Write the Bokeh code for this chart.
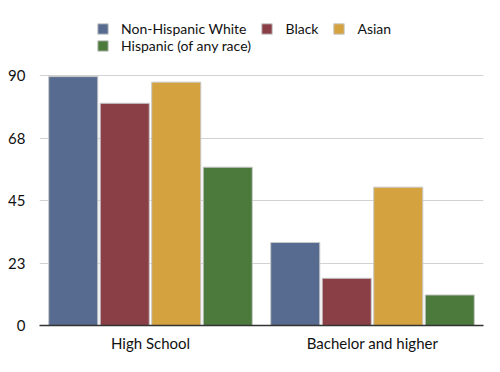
from bokeh.plotting import figure
from bokeh.models import (ColumnDataSource, FactorRange, FixedTicker, CustomJSTickFormatter,
                          Legend, LegendItem)
from bokeh.transform import dodge
from bokeh.embed import file_html
from bokeh.resources import INLINE

categories = ["High School", "Bachelor and higher"]
series = ["Non-Hispanic White", "Black", "Asian", "Hispanic (of any race)"]
white = [89.6, 29.9]
black = [80.0, 17.0]
asian = [87.6, 49.8]
hispanic = [57.0, 11.0]
y_ticks = [0, 22.5, 45, 67.5, 90]

colors = ["#566b8f", "#8a3f46", "#d4a23f", "#4b7a3c"]
offsets = [-0.348, -0.116, 0.116, 0.348]

src = ColumnDataSource(dict(cat=categories, s0=white, s1=black, s2=asian, s3=hispanic))

FONT = "Lato"
p = figure(x_range=FactorRange(*categories, range_padding=0), y_range=(0, 117.0),
           width=500, height=372, output_backend="svg", toolbar_location=None,
           min_border_left=39, min_border_right=17, min_border_top=0, min_border_bottom=47)
p.outline_line_color = None

renderers = []
for i, (name, col, off) in enumerate(zip(series, colors, offsets)):
    r = p.vbar(x=dodge("cat", off, range=p.x_range), top=f"s{i}", width=0.221, source=src,
               fill_color=col, line_color="#c8c8c8", line_width=1)
    renderers.append(r)

p.yaxis.ticker = FixedTicker(ticks=y_ticks)
p.yaxis.formatter = CustomJSTickFormatter(code="return Math.round(tick).toString();")
p.yaxis.axis_line_color = None
p.yaxis.major_tick_line_color = None
p.yaxis.major_tick_out = 0
p.yaxis.minor_tick_line_color = None
p.yaxis.minor_tick_out = 0
p.yaxis.major_label_standoff = 14
p.yaxis.major_label_text_font = FONT
p.yaxis.major_label_text_font_size = "15px"
p.yaxis.major_label_text_color = "#111111"

p.xaxis.axis_line_color = "#333333"
p.xaxis.axis_line_width = 1.5
p.xaxis.major_tick_line_color = None
p.xaxis.major_tick_out = 0
p.xaxis.minor_tick_line_color = None
p.xaxis.minor_tick_out = 0
p.xaxis.major_label_standoff = 8
p.xaxis.major_label_text_font = FONT
p.xaxis.major_label_text_font_size = "15px"
p.xaxis.major_label_text_color = "#111111"

p.xgrid.grid_line_color = None
p.ygrid.grid_line_color = "#d2d2d2"
p.ygrid.grid_line_width = 1.2

common = dict(orientation="horizontal", glyph_width=13, glyph_height=13, label_height=17,
              label_standoff=12, padding=0, margin=0, border_line_color=None,
              background_fill_alpha=0, label_text_font=FONT, label_text_font_size="14px",
              label_text_color="#111111")
legend_top = Legend(items=[LegendItem(label=s, renderers=[r])
                           for s, r in zip(series[:3], renderers[:3])],
                    location=(57, 288), spacing=14, **common)
legend_bottom = Legend(items=[LegendItem(label=series[3], renderers=[renderers[3]])],
                       location=(57, 271), spacing=0, **common)
p.add_layout(legend_top, "center")
p.add_layout(legend_bottom, "center")

open("out.html", "w").write(file_html(p, INLINE))
